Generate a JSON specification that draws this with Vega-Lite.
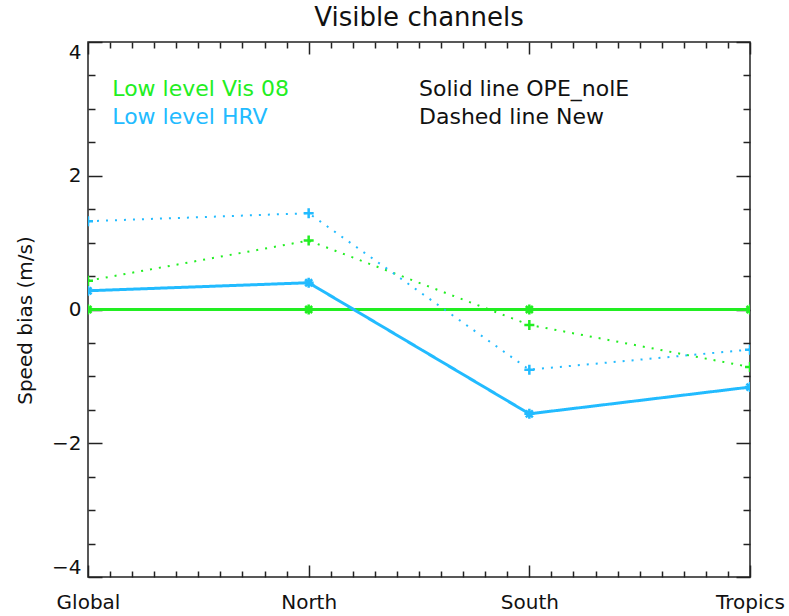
{
  "$schema": "https://vega.github.io/schema/vega-lite/v6.json",
  "width": 662,
  "height": 535,
  "autosize": {"type": "none"},
  "padding": {"left": 88, "top": 42, "right": 39, "bottom": 39},
  "title": {"text": "Visible channels", "fontSize": 26, "font": "DejaVu Sans", "fontWeight": "normal", "color": "#111", "offset": 10, "anchor": "middle"},
  "config": {
    "view": {"stroke": "#222", "strokeWidth": 1.5},
    "axis": {"grid": false, "domain": false, "labelFont": "DejaVu Sans", "labelFontSize": 20, "labelColor": "#111", "titleFont": "DejaVu Sans", "titleFontSize": 20, "titleFontWeight": "normal", "titleColor": "#111", "tickColor": "#222", "tickWidth": 1.5}
  },
  "data": {"values": [
    {"region": "Global", "i": 0, "channel": "Low level Vis 08", "run": "OPE_nolE", "bias": 0},
    {"region": "North", "i": 1, "channel": "Low level Vis 08", "run": "OPE_nolE", "bias": 0},
    {"region": "South", "i": 2, "channel": "Low level Vis 08", "run": "OPE_nolE", "bias": 0},
    {"region": "Tropics", "i": 3, "channel": "Low level Vis 08", "run": "OPE_nolE", "bias": 0},
    {"region": "Global", "i": 0, "channel": "Low level HRV", "run": "OPE_nolE", "bias": 0.28},
    {"region": "North", "i": 1, "channel": "Low level HRV", "run": "OPE_nolE", "bias": 0.40},
    {"region": "South", "i": 2, "channel": "Low level HRV", "run": "OPE_nolE", "bias": -1.56},
    {"region": "Tropics", "i": 3, "channel": "Low level HRV", "run": "OPE_nolE", "bias": -1.16},
    {"region": "Global", "i": 0, "channel": "Low level Vis 08", "run": "New", "bias": 0.43},
    {"region": "North", "i": 1, "channel": "Low level Vis 08", "run": "New", "bias": 1.03},
    {"region": "South", "i": 2, "channel": "Low level Vis 08", "run": "New", "bias": -0.23},
    {"region": "Tropics", "i": 3, "channel": "Low level Vis 08", "run": "New", "bias": -0.86},
    {"region": "Global", "i": 0, "channel": "Low level HRV", "run": "New", "bias": 1.32},
    {"region": "North", "i": 1, "channel": "Low level HRV", "run": "New", "bias": 1.44},
    {"region": "South", "i": 2, "channel": "Low level HRV", "run": "New", "bias": -0.90},
    {"region": "Tropics", "i": 3, "channel": "Low level HRV", "run": "New", "bias": -0.60}
  ]},
  "resolve": {"axis": {"x": "independent", "y": "independent"}},
  "layer": [
    {
      "mark": {"type": "line", "clip": true},
      "encoding": {
        "x": {"field": "i", "type": "quantitative", "scale": {"domain": [0, 3], "nice": false, "zero": false},
              "axis": {"orient": "bottom", "values": [0, 1, 2, 3], "labelExpr": "['Global','North','South','Tropics'][datum.value]", "ticks": false, "labelPadding": 15, "title": null, "labelFlush": false}},
        "y": {"field": "bias", "type": "quantitative", "scale": {"domain": [-4, 4], "nice": false, "zero": false},
              "axis": {"orient": "left", "values": [-4, -2, 0, 2, 4], "ticks": false, "labelPadding": 7, "labelFlush": true, "title": "Speed bias (m/s)", "titleX": -63, "titleY": 278, "titleBaseline": "middle", "titleAngle": -90}},
        "color": {"field": "channel", "type": "nominal", "scale": {"domain": ["Low level Vis 08", "Low level HRV"], "range": ["#22ee22", "#22bbff"]}, "legend": null},
        "strokeDash": {"field": "run", "type": "nominal", "scale": {"domain": ["OPE_nolE", "New"], "range": [[1, 0], [2, 7]]}, "legend": null},
        "strokeWidth": {"field": "run", "type": "nominal", "scale": {"domain": ["OPE_nolE", "New"], "range": [3, 2]}, "legend": null}
      }
    },
    {
      "mark": {"type": "point", "filled": false, "strokeWidth": 2.5, "size": 100, "clip": true, "opacity": 1},
      "encoding": {
        "x": {"field": "i", "type": "quantitative", "axis": null},
        "y": {"field": "bias", "type": "quantitative", "axis": null},
        "color": {"field": "channel", "type": "nominal", "scale": {"domain": ["Low level Vis 08", "Low level HRV"], "range": ["#22ee22", "#22bbff"]}, "legend": null},
        "shape": {"field": "run", "type": "nominal", "scale": {"domain": ["OPE_nolE", "New"], "range": ["M-1,0L1,0M0,-1L0,1M-0.7,-0.7L0.7,0.7M-0.7,0.7L0.7,-0.7", "M-1,0L1,0M0,-1L0,1"]}, "legend": null}
      }
    },
    {
      "mark": {"type": "point", "opacity": 0},
      "encoding": {
        "x": {"field": "i", "type": "quantitative",
              "axis": {"orient": "bottom", "labels": false, "title": null, "values": [0, 0.1, 0.2, 0.3, 0.4, 0.5, 0.6, 0.7, 0.8, 0.9, 1, 1.1, 1.2, 1.3, 1.4, 1.5, 1.6, 1.7, 1.8, 1.9, 2, 2.1, 2.2, 2.3, 2.4, 2.5, 2.6, 2.7, 2.8, 2.9, 3],
                       "tickSize": {"condition": {"test": "datum.value % 1 === 0", "value": -12}, "value": -6}}},
        "y": {"field": "bias", "type": "quantitative",
              "axis": {"orient": "left", "labels": false, "title": null, "values": [-4, -3.5, -3, -2.5, -2, -1.5, -1, -0.5, 0, 0.5, 1, 1.5, 2, 2.5, 3, 3.5, 4],
                       "tickSize": {"condition": {"test": "datum.value % 2 === 0", "value": -14}, "value": -7}}}
      }
    },
    {
      "mark": {"type": "point", "opacity": 0},
      "encoding": {
        "x": {"field": "i", "type": "quantitative",
              "axis": {"orient": "top", "labels": false, "title": null, "values": [0, 0.1, 0.2, 0.3, 0.4, 0.5, 0.6, 0.7, 0.8, 0.9, 1, 1.1, 1.2, 1.3, 1.4, 1.5, 1.6, 1.7, 1.8, 1.9, 2, 2.1, 2.2, 2.3, 2.4, 2.5, 2.6, 2.7, 2.8, 2.9, 3],
                       "tickSize": {"condition": {"test": "datum.value % 1 === 0", "value": -12}, "value": -6}}},
        "y": {"field": "bias", "type": "quantitative",
              "axis": {"orient": "right", "labels": false, "title": null, "values": [-4, -3.5, -3, -2.5, -2, -1.5, -1, -0.5, 0, 0.5, 1, 1.5, 2, 2.5, 3, 3.5, 4],
                       "tickSize": {"condition": {"test": "datum.value % 2 === 0", "value": -14}, "value": -7}}}
      }
    },
    {
      "data": {"values": [{"label": "Low level Vis 08"}]},
      "mark": {"type": "text", "align": "left", "baseline": "middle", "font": "DejaVu Sans", "fontSize": 22, "color": "#22ee22"},
      "encoding": {
        "x": {"datum": 0.11, "type": "quantitative", "axis": null},
        "y": {"datum": 3.3, "type": "quantitative", "axis": null},
        "text": {"field": "label"}
      }
    },
    {
      "data": {"values": [{"label": "Low level HRV"}]},
      "mark": {"type": "text", "align": "left", "baseline": "middle", "font": "DejaVu Sans", "fontSize": 22, "color": "#22bbff"},
      "encoding": {
        "x": {"datum": 0.11, "type": "quantitative", "axis": null},
        "y": {"datum": 2.88, "type": "quantitative", "axis": null},
        "text": {"field": "label"}
      }
    },
    {
      "data": {"values": [{"label": "Solid line OPE_nolE"}]},
      "mark": {"type": "text", "align": "left", "baseline": "middle", "font": "DejaVu Sans", "fontSize": 22, "color": "#111"},
      "encoding": {
        "x": {"datum": 1.5, "type": "quantitative", "axis": null},
        "y": {"datum": 3.3, "type": "quantitative", "axis": null},
        "text": {"field": "label"}
      }
    },
    {
      "data": {"values": [{"label": "Dashed line New"}]},
      "mark": {"type": "text", "align": "left", "baseline": "middle", "font": "DejaVu Sans", "fontSize": 22, "color": "#111"},
      "encoding": {
        "x": {"datum": 1.5, "type": "quantitative", "axis": null},
        "y": {"datum": 2.88, "type": "quantitative", "axis": null},
        "text": {"field": "label"}
      }
    }
  ]
}
